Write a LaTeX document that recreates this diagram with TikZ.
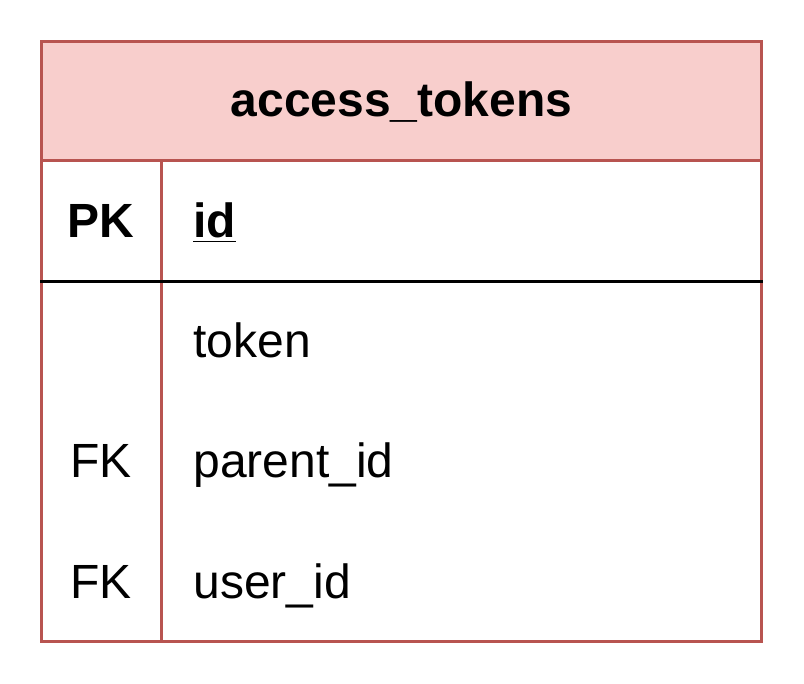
\documentclass[tikz,border=0pt]{standalone}
\usepackage{fontspec}
\setmainfont{Liberation Sans}
\usetikzlibrary{positioning}
\definecolor{tablefill}{HTML}{F8CECC}
\definecolor{tableedge}{HTML}{B85450}
\tikzset{
  frame/.style = {draw=tableedge, line width=1.5pt},
  keyline/.style = {draw=black, line width=1.5pt},
  title/.style = {anchor=base, inner sep=0pt, font=\fontsize{24}{28}\selectfont\bfseries},
  keycell/.style = {anchor=base, inner sep=0pt, font=\fontsize{24}{28}\selectfont},
  field/.style = {anchor=base west, inner sep=0pt, font=\fontsize{24}{28}\selectfont}
}
\begin{document}
\begin{tikzpicture}[x=0.5pt, y=-0.5pt]
\useasboundingbox (0,0) rectangle (804,684);
% header and frame
\fill[tablefill] (41.5,41.5) rectangle (761.5,161);
\draw[frame] (41.5,41.5) rectangle (761.5,641);
\draw[frame] (41.5,161) -- (761.5,161);
\draw[frame] (161.5,161) -- (161.5,641);
\draw[keyline] (40,281.5) -- (763,281.5);
% texts
\node[title] (name) at (401.5,117) {access\_tokens};
\node[keycell] (pk) at (101,238) {\textbf{PK}};
\node[field] (id) at (193,238) {\textbf{\underline{id}}};
\node[field] (token) at (193,358) {token};
\node[keycell] (fk1) at (101,478) {FK};
\node[field] (parent) at (193,478) {parent\_id};
\node[keycell] (fk2) at (101,598) {FK};
\node[field] (user) at (193,598) {user\_id};
\end{tikzpicture}
\end{document}
